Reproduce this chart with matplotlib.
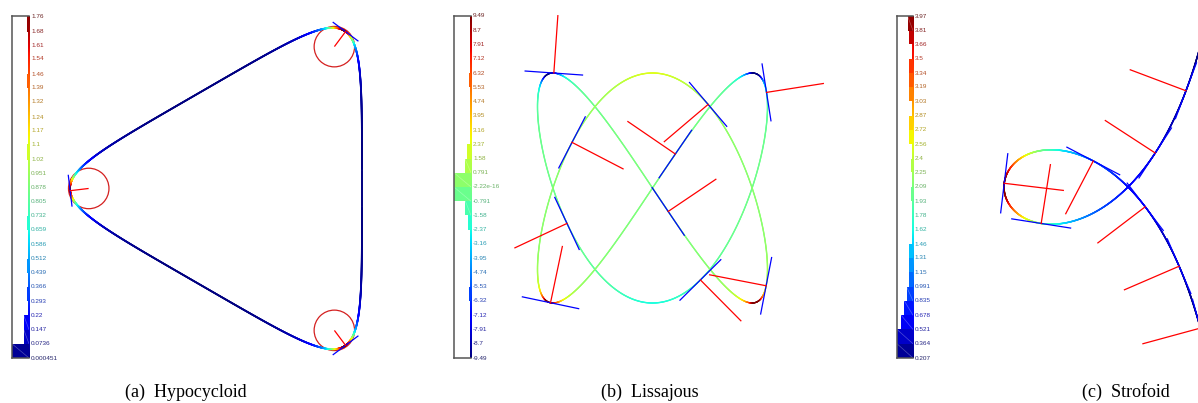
import numpy as np
import matplotlib.pyplot as plt
from matplotlib.colors import Normalize
from matplotlib.collections import LineCollection
from matplotlib.patches import Circle

W, H = 1198, 403
jet = plt.get_cmap('jet')

# colour bar tick labels (bottom -> top)
ticks_a = ['0.000451', '0.0736', '0.147', '0.22', '0.293', '0.366', '0.439',
           '0.512', '0.586', '0.659', '0.732', '0.805', '0.878', '0.951',
           '1.02', '1.1', '1.17', '1.24', '1.32', '1.39', '1.46', '1.54',
           '1.61', '1.68', '1.76']
ticks_b = ['-9.49', '-8.7', '-7.91', '-7.12', '-6.32', '-5.53', '-4.74',
           '-3.95', '-3.16', '-2.37', '-1.58', '-0.791', '-2.22e-16',
           '0.791', '1.58', '2.37', '3.16', '3.95', '4.74', '5.53', '6.32',
           '7.12', '7.91', '8.7', '9.49']
ticks_c = ['0.207', '0.364', '0.521', '0.678', '0.835', '0.991', '1.15',
           '1.31', '1.46', '1.62', '1.78', '1.93', '2.09', '2.25', '2.4',
           '2.56', '2.72', '2.87', '3.03', '3.19', '3.34', '3.5', '3.66',
           '3.81', '3.97']

# histogram bar widths per bin (fraction of the colour bar width)
hist_a = [1.0, 0.31, 0.31, 0, 0.14, 0, 0.14, 0, 0, 0.14, 0, 0, 0, 0,
          0.14, 0, 0, 0, 0, 0.14, 0, 0, 0, 0.14]
hist_b = [0, 0, 0, 0, 0.1, 0, 0, 0, 0, 0.2, 0.33, 1.0, 1.0, 0.36, 0.24,
          0, 0, 0, 0, 0.1, 0, 0, 0, 0]
hist_c = [1.0, 1.0, 0.74, 0.54, 0.4, 0.28, 0.28, 0.28, 0, 0, 0, 0.1, 0,
          0.1, 0, 0.22, 0.22, 0, 0.22, 0.22, 0.22, 0.06, 0.24, 0.34]

captions = ['(a)  Hypocycloid', '(b)  Lissajous', '(c)  Strofoid']

# hypocycloid (three lobed trochoid)
hypo_scale = 2.27
hypo_d = 0.5
t_hypo = [-0.03, 2.124, 4.159]

# lissajous x = sin(2t), y = sin(3t)
liss_freq = (2, 3)
t_liss = [0.1, 0.72, 1.356, 1.99, 2.626, 3.21, 3.85, 4.46, 5.1, 5.738]

# strophoid y^2 = x^2 (1+x)/(1-x)
stro_range = (-2.4, 2.4)
t_stro = [-0.03, 0.42, -0.75, -1.15, 1.25, 1.66, -1.55, -1.95]


def hypo(t):
    s = hypo_scale
    return (-s * (2 * np.cos(t) + hypo_d * np.cos(2 * t)),
            s * (2 * np.sin(t) - hypo_d * np.sin(2 * t)))


def liss(t):
    return np.sin(liss_freq[0] * t), np.sin(liss_freq[1] * t)


def stro(t):
    x = (t ** 2 - 1) / (t ** 2 + 1)
    return x, t * x


def frame(f, t, h=1e-4):
    t = np.asarray(t, dtype=float)
    x, y = f(t)
    xp, yp = f(t + h)
    xm, ym = f(t - h)
    dx, dy = (xp - xm) / (2 * h), (yp - ym) / (2 * h)
    ddx, ddy = (xp - 2 * x + xm) / h ** 2, (yp - 2 * y + ym) / h ** 2
    sp = np.hypot(dx, dy)
    k = (dx * ddy - dy * ddx) / sp ** 3
    return x, y, dx / sp, dy / sp, k


fig = plt.figure(figsize=(W / 100, H / 100), dpi=100)


def px_axes(x0, y0, x1, y1):
    return fig.add_axes([x0 / W, 1 - y1 / H, (x1 - x0) / W, (y1 - y0) / H])


def draw_cbar(x0, x1, ticks, hist):
    vals = [float(s) for s in ticks]
    norm = Normalize(vals[0], vals[-1])
    ax = px_axes(x0, 16, x1, 358)
    ax.imshow(np.linspace(0, 1, 256)[:, None], cmap='jet', origin='lower',
              extent=(0.93, 1, vals[0], vals[-1]), aspect='auto')
    for i, w in enumerate(hist):
        if w <= 0:
            continue
        lo, hi = vals[i], vals[i + 1]
        c = jet(norm((lo + hi) / 2))
        ax.barh((lo + hi) / 2, w, height=hi - lo, left=1 - w, color=c, lw=0)
        if w > 0.3:
            ax.plot([1 - w, 1], [hi, lo], color='white', lw=0.5, alpha=0.3)
    ax.set_xlim(0, 1)
    ax.set_ylim(vals[0], vals[-1])
    ax.set_xticks([])
    ax.set_yticks([])
    for side in ['left', 'top', 'bottom']:
        ax.spines[side].set_color('#555555')
        ax.spines[side].set_linewidth(1.1)
    ax.spines['right'].set_visible(False)
    for s, v in zip(ticks, vals):
        tc = np.array(jet(norm(v))[:3]) * 0.55 + 0.15
        ax.text(1.12, v, s, color=tc, fontsize=4.6, va='center', ha='left',
                family='Liberation Sans')
    return norm


def draw_curve(region, origin, ppu, f, trange, ticks, t_marks, half_tan,
               nlen, signed, lw, circles=False):
    x0, y0, x1, y1 = region
    cx, cy = origin
    ax = px_axes(x0, y0, x1, y1)
    ax.set_xlim((x0 - cx) / ppu, (x1 - cx) / ppu)
    ax.set_ylim((cy - y1) / ppu, (cy - y0) / ppu)
    ax.axis('off')
    vals = [float(s) for s in ticks]
    norm = Normalize(vals[0], vals[-1])

    t = np.linspace(trange[0], trange[1], 3000)
    x, y, _, _, k = frame(f, t)
    kk = k if signed else np.abs(k)
    pts = np.column_stack([x, y]).reshape(-1, 1, 2)
    segs = np.concatenate([pts[:-1], pts[1:]], axis=1)
    kmid = (kk[:-1] + kk[1:]) / 2
    ax.add_collection(LineCollection(segs, colors=jet(norm(kmid)), lw=lw,
                                     capstyle='round'))

    px, py, tx, ty, km = frame(f, t_marks)
    for i in range(len(t_marks)):
        nx, ny = -ty[i], tx[i]
        if not signed:
            sg = np.sign(km[i])
            nx, ny = nx * sg, ny * sg
        ax.plot([px[i] - half_tan * tx[i], px[i] + half_tan * tx[i]],
                [py[i] - half_tan * ty[i], py[i] + half_tan * ty[i]],
                color='#0000ff', lw=0.9)
        ax.plot([px[i], px[i] + nlen * nx], [py[i], py[i] + nlen * ny],
                color='#ff0000', lw=0.9)
        if circles:
            r = 1 / abs(km[i])
            ax.add_patch(Circle((px[i] + r * nx, py[i] + r * ny), r * 1.08,
                                fill=False, ec='#d42020', lw=0.9))


draw_cbar(12, 29, ticks_a, hist_a)
draw_cbar(454, 471, ticks_b, hist_b)
draw_cbar(897, 913, ticks_c, hist_c)

draw_curve((40, 0, 440, 375), (252.5, 188.5), 73 / hypo_scale, hypo,
           (0, 2 * np.pi), ticks_a, t_hypo, 0.48, 0.56, False, 1.3,
           circles=True)
draw_curve((480, 0, 880, 375), (652.5, 188), 115, liss,
           (0, 2 * np.pi), ticks_b, t_liss, 0.25, 0.5, True, 1.0)
draw_curve((925, 0, 1198, 375), (1128, 187), 124, stro,
           stro_range, ticks_c, t_stro, 0.24, 0.48, False, 1.1)

for cx, txt in zip([186, 650, 1126], captions):
    fig.text(cx / W, 1 - 392 / H, txt, ha='center', va='center',
             family='Liberation Serif', fontsize=13)

fig.savefig('out.png', dpi=100)
